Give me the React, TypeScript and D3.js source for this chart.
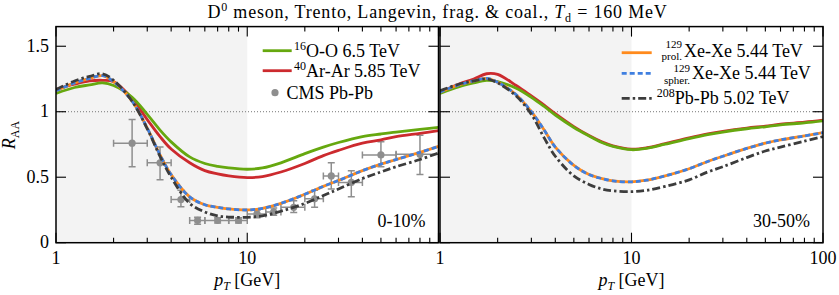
import React from 'react';
import * as d3 from 'd3';

const W = 839;
const H = 295;

// pT grid (GeV) at which the model curves were read
const PT = [1, 1.25, 1.5, 1.75, 2, 2.5, 3, 3.5, 4, 5, 6, 7, 8, 10, 12, 15, 20, 25, 30, 40, 50, 60, 80, 100];

// 0-10% centrality
const OO_0_10 = [1.14, 1.185, 1.205, 1.22, 1.20, 1.11, 0.98, 0.86, 0.77, 0.655, 0.605, 0.583, 0.571, 0.561, 0.571, 0.61, 0.68, 0.73, 0.765, 0.81, 0.83, 0.845, 0.865, 0.88];
const ArAr_0_10 = [1.17, 1.21, 1.235, 1.24, 1.23, 1.10, 0.94, 0.81, 0.715, 0.61, 0.55, 0.525, 0.51, 0.497, 0.505, 0.54, 0.605, 0.665, 0.705, 0.76, 0.785, 0.81, 0.835, 0.855];
const XeProl_0_10 = [1.16, 1.22, 1.255, 1.275, 1.23, 1.08, 0.875, 0.67, 0.52, 0.35, 0.29, 0.27, 0.258, 0.25, 0.262, 0.30, 0.37, 0.43, 0.475, 0.55, 0.60, 0.635, 0.69, 0.735];
const XeSph_0_10 = [1.16, 1.22, 1.255, 1.275, 1.23, 1.08, 0.875, 0.67, 0.52, 0.35, 0.29, 0.27, 0.258, 0.25, 0.262, 0.30, 0.37, 0.43, 0.475, 0.55, 0.60, 0.635, 0.69, 0.735];
const PbPb_0_10 = [1.17, 1.235, 1.27, 1.29, 1.24, 1.08, 0.87, 0.66, 0.50, 0.30, 0.235, 0.205, 0.196, 0.194, 0.205, 0.24, 0.30, 0.36, 0.41, 0.49, 0.54, 0.58, 0.635, 0.685];

// 30-50% centrality
const OO_30_50 = [1.14, 1.19, 1.22, 1.24, 1.23, 1.18, 1.11, 1.04, 0.975, 0.88, 0.815, 0.765, 0.735, 0.71, 0.72, 0.752, 0.795, 0.825, 0.845, 0.87, 0.885, 0.90, 0.915, 0.93];
const ArAr_30_50 = [1.15, 1.21, 1.25, 1.29, 1.285, 1.20, 1.12, 1.05, 0.985, 0.886, 0.818, 0.77, 0.74, 0.715, 0.725, 0.757, 0.80, 0.83, 0.85, 0.875, 0.89, 0.905, 0.92, 0.935];
const XeProl_30_50 = [1.15, 1.205, 1.235, 1.255, 1.225, 1.13, 1.0, 0.86, 0.73, 0.59, 0.52, 0.49, 0.472, 0.465, 0.477, 0.51, 0.565, 0.62, 0.66, 0.72, 0.76, 0.785, 0.815, 0.84];
const XeSph_30_50 = [1.15, 1.205, 1.235, 1.255, 1.225, 1.13, 1.0, 0.86, 0.73, 0.59, 0.52, 0.49, 0.472, 0.465, 0.477, 0.51, 0.565, 0.62, 0.66, 0.72, 0.76, 0.785, 0.815, 0.84];
const PbPb_30_50 = [1.16, 1.21, 1.235, 1.25, 1.22, 1.12, 0.98, 0.80, 0.66, 0.51, 0.445, 0.41, 0.396, 0.39, 0.40, 0.43, 0.48, 0.54, 0.58, 0.65, 0.70, 0.73, 0.775, 0.81];

// CMS Pb-Pb 0-10% data
const cmsPt = [2.5, 3.5, 4.5, 5.5, 7, 9, 11.25, 13.75, 17.5, 22.5, 27.5, 35, 50, 80];
const cmsPtLo = [2, 3, 4, 5, 6, 8, 10, 12.5, 15, 20, 25, 30, 40, 60];
const cmsPtHi = [3, 4, 5, 6, 8, 10, 12.5, 15, 20, 25, 30, 40, 60, 100];
const cmsR = [0.76, 0.61, 0.33, 0.17, 0.17, 0.17, 0.22, 0.235, 0.27, 0.335, 0.51, 0.46, 0.67, 0.675];
const cmsRLo = [0.58, 0.48, 0.275, 0.14, 0.15, 0.15, 0.19, 0.21, 0.23, 0.27, 0.41, 0.35, 0.58, 0.52];
const cmsRHi = [0.94, 0.73, 0.40, 0.195, 0.19, 0.19, 0.25, 0.265, 0.32, 0.40, 0.61, 0.55, 0.77, 0.82];

const yTicks = [0, 0.5, 1, 1.5];
const yTickLabels = ['0', '0.5', '1', '1.5'];

const C_GREEN = '#66a80f';
const C_RED = '#cc2a2e';
const C_ORANGE = '#ff8a1c';
const C_BLUE = '#3f7fe0';
const C_DARK = '#3c3c3c';
const C_GRAY = '#8e8e8e';

const FONT = 'Liberation Serif';

const y = d3.scaleLinear().domain([0, 1.65]).range([242.7, 26.6]);
const Y0 = 242.7;
const Y1 = 26.6;

type Panel = {
  id: string;
  x: d3.ScaleLogarithmic<number, number>;
  series: { vals: number[]; color: string; dash?: string; width: number }[];
  label: string;
  data: boolean;
  xLabels: number[];
};

function makePanels(): Panel[] {
  const xL = d3.scaleLog().domain([1, 100]).range([56, 438.5]);
  const xR = d3.scaleLog().domain([1, 100]).range([440, 823]);
  return [
    {
      id: 'L',
      x: xL,
      series: [
        { vals: ArAr_0_10, color: C_RED, width: 2.8 },
        { vals: OO_0_10, color: C_GREEN, width: 2.8 },
        { vals: XeProl_0_10, color: C_ORANGE, width: 2.8 },
        { vals: XeSph_0_10, color: C_BLUE, width: 2.8, dash: '5,3' },
        { vals: PbPb_0_10, color: C_DARK, width: 2.8, dash: '8,3,2.5,3' },
      ],
      label: '0-10%',
      data: true,
      xLabels: [1, 10],
    },
    {
      id: 'R',
      x: xR,
      series: [
        { vals: ArAr_30_50, color: C_RED, width: 2.8 },
        { vals: OO_30_50, color: C_GREEN, width: 2.8 },
        { vals: XeProl_30_50, color: C_ORANGE, width: 2.8 },
        { vals: XeSph_30_50, color: C_BLUE, width: 2.8, dash: '5,3' },
        { vals: PbPb_30_50, color: C_DARK, width: 2.8, dash: '8,3,2.5,3' },
      ],
      label: '30-50%',
      data: false,
      xLabels: [1, 10, 100],
    },
  ];
}

function PanelView({ p }: { p: Panel }) {
  const [x0, x1] = p.x.range();
  const line = d3
    .line<number>()
    .x((_, i) => p.x(PT[i]))
    .y((v) => y(v))
    .curve(d3.curveCatmullRom.alpha(0.5));
  const ticks = p.x.ticks();
  const cap = 3.5;
  return (
    <g>
      <defs>
        <clipPath id={'clip' + p.id}>
          <rect x={x0} y={Y1} width={x1 - x0} height={Y0 - Y1} />
        </clipPath>
      </defs>
      <rect x={x0} y={Y1} width={x1 - x0} height={Y0 - Y1} fill="#fff" />
      <rect x={x0} y={Y1} width={p.x(10) - x0} height={Y0 - Y1} fill="#f3f3f3" />
      <line x1={x0} x2={x1} y1={y(1)} y2={y(1)} stroke="#777" strokeWidth={1} strokeDasharray="1,2" />
      <g clipPath={`url(#clip${p.id})`}>
        {p.data &&
          cmsPt.map((pt, i) => (
            <g key={i} stroke={C_GRAY} strokeWidth={1.5} fill="none">
              <line x1={p.x(cmsPtLo[i])} x2={p.x(cmsPtHi[i])} y1={y(cmsR[i])} y2={y(cmsR[i])} />
              <line x1={p.x(pt)} x2={p.x(pt)} y1={y(cmsRLo[i])} y2={y(cmsRHi[i])} />
              <line x1={p.x(cmsPtLo[i])} x2={p.x(cmsPtLo[i])} y1={y(cmsR[i]) - cap} y2={y(cmsR[i]) + cap} />
              <line x1={p.x(cmsPtHi[i])} x2={p.x(cmsPtHi[i])} y1={y(cmsR[i]) - cap} y2={y(cmsR[i]) + cap} />
              <line x1={p.x(pt) - cap} x2={p.x(pt) + cap} y1={y(cmsRLo[i])} y2={y(cmsRLo[i])} />
              <line x1={p.x(pt) - cap} x2={p.x(pt) + cap} y1={y(cmsRHi[i])} y2={y(cmsRHi[i])} />
              <circle cx={p.x(pt)} cy={y(cmsR[i])} r={3.6} fill={C_GRAY} stroke="none" />
            </g>
          ))}
        {p.series.map((s, i) => (
          <path
            key={i}
            d={line(s.vals) || ''}
            fill="none"
            stroke={s.color}
            strokeWidth={s.width}
            strokeDasharray={s.dash}
          />
        ))}
      </g>
      {/* ticks */}
      <g stroke="#000" strokeWidth={1.1}>
        {ticks.map((t, i) => {
          const major = Math.abs(Math.log10(t) - Math.round(Math.log10(t))) < 1e-9;
          const len = major ? 10 : 5;
          const xx = p.x(t);
          return (
            <g key={i}>
              <line x1={xx} x2={xx} y1={Y0} y2={Y0 - len} />
              <line x1={xx} x2={xx} y1={Y1} y2={Y1 + len} />
            </g>
          );
        })}
        {yTicks.map((t, i) => (
          <g key={i}>
            <line x1={x0} x2={x0 + 10} y1={y(t)} y2={y(t)} />
            <line x1={x1} x2={x1 - 10} y1={y(t)} y2={y(t)} />
          </g>
        ))}
      </g>
      <rect x={x0} y={Y1} width={x1 - x0} height={Y0 - Y1} fill="none" stroke="#000" strokeWidth={1.5} />
      {/* x tick labels */}
      {p.xLabels.map((t, i) => (
        <text key={i} x={p.x(t)} y={264} fontSize={18} textAnchor="middle">
          {String(t)}
        </text>
      ))}
      {/* x axis label */}
      <text x={p.x(10)} y={286} fontSize={18} textAnchor="middle">
        <tspan fontStyle="italic">p</tspan>
        <tspan fontStyle="italic" fontSize={12} dy={4}>T</tspan>
        <tspan dy={-4}> [GeV]</tspan>
      </text>
      <text x={x1 - 13} y={227} fontSize={18} textAnchor="end">
        {p.label}
      </text>
    </g>
  );
}

function LegendLeft() {
  return (
    <g fontSize={18}>
      <line x1={262.7} x2={291.7} y1={50.7} y2={50.7} stroke={C_GREEN} strokeWidth={2.8} />
      <text x={294} y={56.5}>
        <tspan fontSize={12} dy={-7}>16</tspan>
        <tspan dy={7}>O-O 6.5 TeV</tspan>
      </text>
      <line x1={262.7} x2={291.7} y1={70.7} y2={70.7} stroke={C_RED} strokeWidth={2.8} />
      <text x={294} y={76.5}>
        <tspan fontSize={12} dy={-7}>40</tspan>
        <tspan dy={7}>Ar-Ar 5.85 TeV</tspan>
      </text>
      <circle cx={275} cy={92.7} r={3.6} fill={C_GRAY} />
      <text x={286.5} y={98.5}>CMS Pb-Pb</text>
    </g>
  );
}

function LegendRight() {
  return (
    <g fontSize={18}>
      <line x1={621.7} x2={651.7} y1={52.7} y2={52.7} stroke={C_ORANGE} strokeWidth={2.8} />
      <text x={682} y={47.5} fontSize={11} textAnchor="end">129</text>
      <text x={682} y={60} fontSize={11} textAnchor="end">prol.</text>
      <text x={684} y={57}>Xe-Xe 5.44 TeV</text>
      <line x1={621.7} x2={651.7} y1={73.3} y2={73.3} stroke={C_BLUE} strokeWidth={2.8} strokeDasharray="5,3" />
      <text x={690} y={71.5} fontSize={11} textAnchor="end">129</text>
      <text x={690} y={83.5} fontSize={11} textAnchor="end">spher.</text>
      <text x={692} y={79}>Xe-Xe 5.44 TeV</text>
      <line x1={621.7} x2={651.7} y1={98.3} y2={98.3} stroke={C_DARK} strokeWidth={2.8} strokeDasharray="8,3,2.5,3" />
      <text x={656.7} y={104}>
        <tspan fontSize={12} dy={-7}>208</tspan>
        <tspan dy={7}>Pb-Pb 5.02 TeV</tspan>
      </text>
    </g>
  );
}

export default function App() {
  const panels = makePanels();
  return (
    <svg
      width={W}
      height={H}
      viewBox={`0 0 ${W} ${H}`}
      style={{ position: 'absolute', left: 0, top: 0, background: '#fff', fontFamily: FONT }}
    >
      <rect x={0} y={0} width={W} height={H} fill="#fff" />
      {panels.map((p) => (
        <PanelView key={p.id} p={p} />
      ))}
      {/* y tick labels */}
      {yTicks.map((t, i) => (
        <text key={i} x={49} y={y(t) + 5.5} fontSize={18} textAnchor="end">
          {yTickLabels[i]}
        </text>
      ))}
      {/* y axis label */}
      <text transform={`translate(15,135) rotate(-90)`} fontSize={18} textAnchor="middle">
        <tspan fontStyle="italic">R</tspan>
        <tspan fontSize={12} dy={4}>AA</tspan>
      </text>
      {/* title */}
      <text x={437.5} y={17.5} fontSize={18} textAnchor="middle" letterSpacing={0.8}>
        <tspan>D</tspan>
        <tspan fontSize={12} dy={-7}>0</tspan>
        <tspan dy={7}> meson, Trento, Langevin, frag. &amp; coal., </tspan>
        <tspan fontStyle="italic">T</tspan>
        <tspan fontSize={12} dy={4}>d</tspan>
        <tspan dy={-4}> = 160 MeV</tspan>
      </text>
      <LegendLeft />
      <LegendRight />
    </svg>
  );
}
